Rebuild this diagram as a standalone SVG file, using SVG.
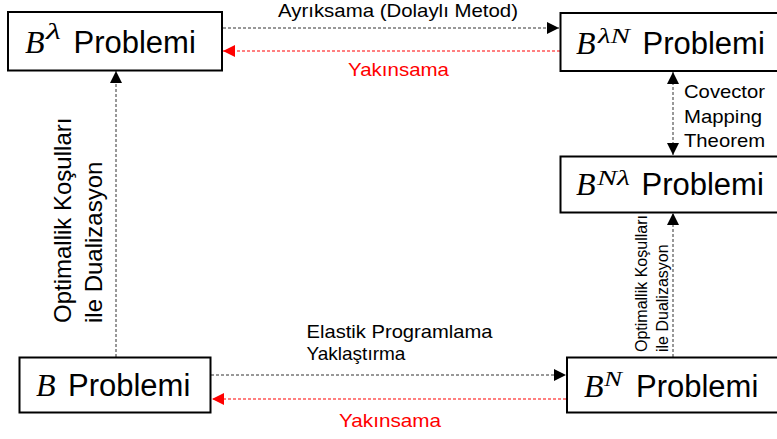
<svg xmlns="http://www.w3.org/2000/svg" width="777" height="439" viewBox="0 0 777 439">
  <style>
    .box { fill: #ffffff; stroke: #000000; stroke-width: 2; }
    .name { font-family: "Liberation Sans", Arial, sans-serif; font-size: 31px; fill: #000000; }
    .sym { font-family: "Liberation Serif", "Times New Roman", serif; font-style: italic; font-size: 32px; fill: #000000; }
    .sup { font-family: "Liberation Serif", "Times New Roman", serif; font-style: italic; font-size: 21px; fill: #000000; }
    .lbl { font-family: "Liberation Sans", Arial, sans-serif; font-size: 19px; fill: #000000; }
    .red { fill: #ff0000; }
    .fwd { fill: none; stroke: #333333; stroke-width: 1; stroke-dasharray: 3 2; }
    .back { fill: none; stroke: #ff0000; stroke-width: 1; stroke-dasharray: 3 2; }
  </style>
  <defs>
    <marker id="headBlack" viewBox="0 0 12 12" refX="12" refY="6" markerWidth="12" markerHeight="12" markerUnits="userSpaceOnUse" orient="auto">
      <path d="M0,0 L12,6 L0,12 Z" fill="#000000"/>
    </marker>
    <marker id="headBlackStart" viewBox="0 0 12 12" refX="0" refY="6" markerWidth="12" markerHeight="12" markerUnits="userSpaceOnUse" orient="auto">
      <path d="M12,0 L0,6 L12,12 Z" fill="#000000"/>
    </marker>
    <marker id="headRed" viewBox="0 0 12 12" refX="12" refY="6" markerWidth="12" markerHeight="12" markerUnits="userSpaceOnUse" orient="auto">
      <path d="M0,0 L12,6 L0,12 Z" fill="#ff0000"/>
    </marker>
  </defs>

  <rect width="777" height="439" fill="#ffffff"/>

  <!-- connectors -->
  <g id="connectors">
    <line class="fwd" x1="223" y1="28" x2="559" y2="28" marker-end="url(#headBlack)"/>
    <line class="back" x1="560" y1="51" x2="223" y2="51" marker-end="url(#headRed)"/>
    <line class="fwd" x1="673" y1="72" x2="673" y2="155" marker-start="url(#headBlackStart)" marker-end="url(#headBlack)"/>
    <line class="fwd" x1="116" y1="357" x2="116" y2="71" marker-end="url(#headBlack)"/>
    <line class="fwd" x1="673" y1="357" x2="673" y2="213" marker-end="url(#headBlack)"/>
    <line class="fwd" x1="211" y1="375" x2="566" y2="375" marker-end="url(#headBlack)"/>
    <line class="back" x1="566" y1="399" x2="212" y2="399" marker-end="url(#headRed)"/>

    <text class="lbl" x="398" y="17" text-anchor="middle" textLength="240" lengthAdjust="spacingAndGlyphs">Ayrıksama (Dolaylı Metod)</text>
    <text class="lbl red" x="398.5" y="76" text-anchor="middle" textLength="101" lengthAdjust="spacingAndGlyphs">Yakınsama</text>

    <text class="lbl" x="684" y="98" textLength="81" lengthAdjust="spacingAndGlyphs">Covector</text>
    <text class="lbl" x="684" y="122.5" textLength="78" lengthAdjust="spacingAndGlyphs">Mapping</text>
    <text class="lbl" x="684" y="147" textLength="81" lengthAdjust="spacingAndGlyphs">Theorem</text>

    <g transform="translate(70.5,323) rotate(-90)">
      <text class="lbl" x="0" y="0" style="font-size:24px">Optimallik Koşulları</text>
      <text class="lbl" x="0" y="31" style="font-size:24px">ile Dualizasyon</text>
    </g>
    <g transform="translate(647,352) rotate(-90)">
      <text class="lbl" x="0" y="0" style="font-size:16px">Optimallik Koşulları</text>
      <text class="lbl" x="0" y="21" style="font-size:16px">ile Dualizasyon</text>
    </g>

    <text class="lbl" x="306.5" y="338" textLength="186" lengthAdjust="spacingAndGlyphs">Elastik Programlama</text>
    <text class="lbl" x="306.5" y="360">Yaklaştırma</text>
    <text class="lbl red" x="390" y="427" text-anchor="middle" textLength="102" lengthAdjust="spacingAndGlyphs">Yakınsama</text>
  </g>

  <!-- B^lambda problem -->
  <g id="node-b-lambda">
    <rect class="box" x="8" y="12" width="214" height="58.5"/>
    <text class="sym" x="25" y="53">B</text>
    <text class="sup" x="46" y="39" style="font-size:24px" textLength="15" lengthAdjust="spacingAndGlyphs">λ</text>
    <text class="name" x="73.5" y="53">Problemi</text>
  </g>

  <!-- B^{lambda N} problem -->
  <g id="node-b-lambda-n">
    <rect class="box" x="560.5" y="13" width="220" height="58"/>
    <text class="sym" x="576" y="54">B</text>
    <text class="sup" x="598" y="43" textLength="32" lengthAdjust="spacingAndGlyphs">λN</text>
    <text class="name" x="642.5" y="54">Problemi</text>
  </g>

  <!-- B^{N lambda} problem -->
  <g id="node-b-n-lambda">
    <rect class="box" x="560.5" y="156.5" width="220" height="56"/>
    <text class="sym" x="576" y="195">B</text>
    <text class="sup" x="597" y="185" textLength="33" lengthAdjust="spacingAndGlyphs">Nλ</text>
    <text class="name" x="641.5" y="195">Problemi</text>
  </g>

  <!-- B problem -->
  <g id="node-b">
    <rect class="box" x="19.5" y="357.5" width="191" height="55"/>
    <text class="sym" x="36" y="396">B</text>
    <text class="name" x="68" y="396">Problemi</text>
  </g>

  <!-- B^N problem -->
  <g id="node-b-n">
    <rect class="box" x="567" y="357.5" width="215" height="55"/>
    <text class="sym" x="584" y="397">B</text>
    <text class="sup" x="604" y="386" textLength="18" lengthAdjust="spacingAndGlyphs">N</text>
    <text class="name" x="636" y="397">Problemi</text>
  </g>
</svg>
